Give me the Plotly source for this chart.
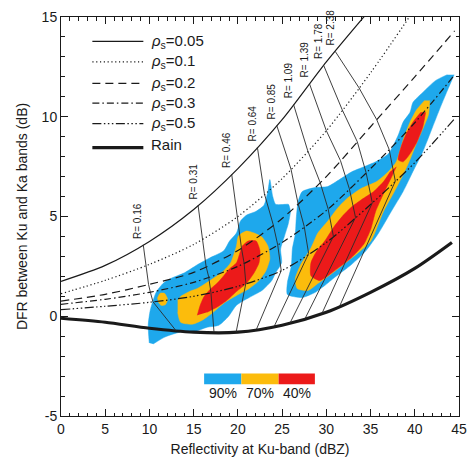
import numpy as np
import plotly.graph_objects as go

# ---------------- model curves: DFR (dB) versus Ku-band reflectivity (dBZ) ----------------
z_rho005 = [0, 5, 10, 15, 20, 25, 30, 35]
dfr_rho005 = [1.75, 2.55, 3.75, 5.35, 7.4, 9.85, 12.75, 15.4]

z_rho01 = [0, 5, 10, 15, 20, 25, 30, 35, 40]
dfr_rho01 = [1.13, 1.8, 2.6, 3.6, 5.0, 6.9, 9.3, 12.2, 15.4]

z_rho02 = [0, 5, 10, 15, 20, 25, 30, 35, 40, 44.5]
dfr_rho02 = [0.76, 1.1, 1.6, 2.2, 3.3, 4.9, 7.0, 9.5, 12.0, 14.3]

z_rho03 = [0, 5, 10, 15, 20, 25, 30, 35, 40, 44.5]
dfr_rho03 = [0.6, 0.85, 1.2, 1.7, 2.5, 3.7, 5.3, 7.4, 9.7, 12.1]

z_rho05 = [0, 5, 10, 15, 20, 25, 30, 35, 40, 44.5]
dfr_rho05 = [0.33, 0.5, 0.7, 1.0, 1.5, 2.3, 3.7, 5.6, 7.7, 9.9]

z_rain = [0, 5, 10, 15, 20, 25, 30, 35, 40, 44.2]
dfr_rain = [-0.1, -0.3, -0.6, -0.8, -0.8, -0.45, 0.2, 1.2, 2.4, 3.7]

# ---------------- iso-R lines: Z where each R value meets each curve ----------------
r_values = ["0.16", "0.31", "0.46", "0.64", "0.85", "1.09", "1.39", "1.78", "2.38"]
iso_z_rho005 = [9.3, 15.5, 19.3, 22.2, 24.4, 26.3, 28.1, 29.7, 31.0]
iso_z_rho01 = [9.6, 16.0, 19.9, 23.0, 26.0, 27.9, 30.0, 31.8, 33.7]
iso_z_rho02 = [9.9, 16.4, 20.4, 24.0, 26.8, 29.3, 31.6, 33.5, 35.7]
iso_z_rho03 = [10.1, 16.7, 20.7, 24.5, 27.5, 30.2, 32.6, 34.5, 37.1]
iso_z_rho05 = [10.4, 16.95, 20.9, 24.9, 28.0, 30.8, 33.3, 35.2, 37.8]
iso_z_rain = [13.0, 17.3, 19.8, 22.1, 24.1, 25.9, 27.6, 29.5, 31.5]

# ---------------- observed joint-frequency contours (90 %, 70 %, 40 %) ----------------
blue_left_z = [9.98, 9.86, 10.09, 10.75, 11.53, 12.41, 13.97, 15.41, 16.85, 18.40, 19.06, 19.84,
               20.28, 20.95, 22.06, 22.94, 23.39, 23.61, 23.94, 24.27, 25.38, 25.71, 25.94, 25.71,
               25.27, 24.83, 24.94, 24.27, 23.83, 22.72, 21.28, 19.84, 18.95, 17.85, 16.52, 14.96,
               13.52, 11.75, 10.42]
blue_left_dfr = [-1.34, -0.45, 0.30, 1.19, 1.64, 1.89, 2.18, 2.58, 2.93, 3.28, 3.77, 4.17,
                 4.76, 5.06, 5.26, 5.56, 6.25, 6.85, 6.00, 5.61, 5.61, 5.61, 5.26, 4.66,
                 4.02, 3.37, 2.68, 2.18, 1.79, 1.29, 0.94, 0.55, 0.0, -0.45, -0.55, -0.79,
                 -0.79, -1.04, -1.39]

orange_left_z = [13.19, 13.52, 14.52, 15.41, 16.85, 18.40, 19.18, 19.84, 20.06, 20.95, 21.84, 22.72,
                 23.39, 23.61, 23.17, 22.39, 21.28, 19.84, 18.51, 17.07, 15.96, 14.85, 13.52, 13.19]
orange_left_dfr = [0.79, 0.99, 1.24, 1.39, 1.79, 2.28, 2.68, 3.52, 4.02, 4.27, 4.17, 3.97,
                   3.52, 2.88, 2.28, 1.79, 1.39, 1.04, 0.69, 0.15, -0.20, -0.40, -0.30, 0.20]

orange_isle_z = [10.9, 11.2, 11.7, 12.05, 11.8, 11.3, 10.95]
orange_isle_dfr = [0.9, 1.15, 1.15, 0.85, 0.58, 0.55, 0.75]

red_left_z = [15.41, 15.74, 16.18, 16.96, 17.62, 18.40, 19.06, 19.84, 20.51, 21.17, 22.06, 22.50,
              22.39, 21.84, 20.95, 19.84, 18.73, 17.62, 16.52]
red_left_dfr = [0.05, 0.55, 0.99, 1.39, 1.64, 2.03, 2.38, 2.68, 3.52, 3.77, 3.77, 3.28,
                2.68, 2.18, 1.64, 1.24, 0.79, 0.45, 0.20]

blue_right_z = [44.45, 43.78, 42.89, 42.01, 40.90, 39.79, 38.68, 37.35, 35.91, 34.47, 32.81, 30.92,
                29.82, 28.71, 27.27, 25.60, 25.60, 26.05, 26.16, 26.49, 26.60, 26.82, 27.27, 28.71,
                30.15, 31.48, 32.92, 34.25, 35.58, 37.02, 38.13, 38.68, 39.46, 39.79, 40.90, 42.34,
                43.67]
blue_right_dfr = [12.11, 11.41, 10.47, 9.48, 8.24, 7.25, 6.25, 5.26, 4.17, 3.28, 2.58, 1.94,
                  1.54, 1.19, 0.94, 1.09, 1.69, 2.53, 3.37, 4.12, 4.91, 5.76, 6.25, 6.45,
                  6.50, 6.85, 7.25, 7.49, 7.74, 8.14, 9.08, 9.73, 10.22, 10.72, 11.22, 11.81,
                  12.11]

orange_right_z = [41.68, 41.56, 40.90, 40.12, 39.35, 38.57, 37.57, 36.47, 35.03, 33.47, 32.03, 30.59,
                  29.04, 27.93, 26.71, 26.49, 27.16, 28.26, 29.04, 30.15, 31.26, 32.37, 33.92, 35.69,
                  37.02, 37.91, 38.35, 38.79, 39.46, 40.24, 41.12]
orange_right_dfr = [10.82, 10.12, 9.38, 8.59, 7.74, 7.00, 6.15, 5.26, 3.77, 3.13, 2.63, 2.13,
                    1.64, 1.29, 1.39, 1.89, 2.63, 3.42, 4.17, 4.76, 5.41, 5.91, 6.40, 6.75,
                    7.25, 7.74, 8.34, 8.98, 9.73, 10.37, 10.82]

red_right_z = [37.91, 37.24, 36.47, 35.58, 35.03, 34.25, 32.81, 30.92, 29.26, 28.26, 28.26, 28.93,
               29.82, 30.92, 31.81, 32.81, 34.03, 35.36, 36.47, 37.24]
red_right_dfr = [7.49, 6.85, 6.15, 5.26, 4.37, 3.62, 2.93, 2.28, 1.79, 2.03, 2.68, 3.28,
                 3.77, 4.52, 5.01, 5.46, 5.86, 6.25, 6.75, 7.25]

red_isle_z = [41.23, 40.90, 40.24, 39.46, 38.68, 38.13, 38.46, 39.02, 39.79, 40.68]
red_isle_dfr = [10.22, 9.48, 8.73, 8.14, 7.74, 7.84, 8.49, 9.13, 9.73, 10.22]

x_ticks = [0, 5, 10, 15, 20, 25, 30, 35, 40, 45]
y_ticks = [-5, 0, 5, 10, 15]
y_ticktext = ["-5", "0", "5", "10", "15"]
level_labels = ["90%", "70%", "40%"]

BLUE = "#1ea8ec"
ORANGE = "#fcbc0c"
RED = "#ec1a1a"
INK = "#1a1a1a"
FONT = "Liberation Sans, Arial, sans-serif"

fig = go.Figure()

# filled frequency regions, outer level first
regions = [
    (blue_left_z, blue_left_dfr, BLUE),
    (blue_right_z, blue_right_dfr, BLUE),
    (orange_left_z, orange_left_dfr, ORANGE),
    (orange_isle_z, orange_isle_dfr, ORANGE),
    (orange_right_z, orange_right_dfr, ORANGE),
    (red_left_z, red_left_dfr, RED),
    (red_right_z, red_right_dfr, RED),
    (red_isle_z, red_isle_dfr, RED),
]
for zs, ds, col in regions:
    fig.add_trace(go.Scatter(x=zs, y=ds, mode="lines", fill="toself", fillcolor=col,
                             line=dict(color=col, width=0.5, shape="spline", smoothing=0.6),
                             hoverinfo="skip", showlegend=False))

# model curves
curves = [
    (z_rho005, dfr_rho005, dict(width=1.2, dash="solid")),
    (z_rho01, dfr_rho01, dict(width=1.2, dash="1.2px,2.6px")),
    (z_rho02, dfr_rho02, dict(width=1.2, dash="8px,5px")),
    (z_rho03, dfr_rho03, dict(width=1.2, dash="7px,3px,1.5px,3px")),
    (z_rho05, dfr_rho05, dict(width=1.2, dash="9px,2.5px,1.5px,2.5px,1.5px,2.5px,1.5px,2.5px")),
    (z_rain, dfr_rain, dict(width=3.2, dash="solid")),
]
for zs, ds, ln in curves:
    fig.add_trace(go.Scatter(x=zs, y=ds, mode="lines",
                             line=dict(color=INK, shape="spline", smoothing=0.8, **ln),
                             hoverinfo="skip", showlegend=False))

# iso-R lines joining the same R on each curve, from rho_s=0.05 down to rain
curve_sets = [(iso_z_rho005, z_rho005, dfr_rho005), (iso_z_rho01, z_rho01, dfr_rho01),
              (iso_z_rho02, z_rho02, dfr_rho02), (iso_z_rho03, z_rho03, dfr_rho03),
              (iso_z_rho05, z_rho05, dfr_rho05), (iso_z_rain, z_rain, dfr_rain)]
for i, r in enumerate(r_values):
    xs = [iz[i] for iz, _, _ in curve_sets]
    ys = [float(np.interp(iz[i], cz, cd)) for iz, cz, cd in curve_sets]
    fig.add_trace(go.Scatter(x=xs, y=ys, mode="lines",
                             line=dict(color="#2a2a2a", width=0.9),
                             hoverinfo="skip", showlegend=False))
    fig.add_annotation(x=xs[0], y=ys[0], text="R= " + r, textangle=-90, showarrow=False,
                       xanchor="center", yanchor="bottom", xshift=-5, yshift=4,
                       font=dict(family=FONT, size=10, color=INK))

# legend drawn inside the frame
leg_text = ["<i>ρ</i><sub>s</sub>=" + v for v in ["0.05", "0.1", "0.2", "0.3", "0.5"]] + ["Rain"]
leg_style = [c[2] for c in curves]
leg_y = [0.9387, 0.8876, 0.8337, 0.7841, 0.7328, 0.6725]
for txt, st, yy in zip(leg_text, leg_style, leg_y):
    fig.add_shape(type="line", xref="paper", yref="paper", x0=0.0788, x1=0.2069, y0=yy, y1=yy,
                  line=dict(color=INK, width=st["width"], dash=st["dash"]))
    fig.add_annotation(xref="paper", yref="paper", x=0.2217, y=yy + (0.008 if txt == "Rain" else 0.0),
                       text=txt, showarrow=False, xanchor="left", yanchor="middle",
                       font=dict(family=FONT, size=15, color=INK))

# colour key for the frequency levels
key_x = [0.3596, 0.4532, 0.5468, 0.6379]
for j, (col, lab) in enumerate(zip([BLUE, ORANGE, RED], level_labels)):
    fig.add_shape(type="rect", xref="paper", yref="paper", x0=key_x[j], x1=key_x[j + 1],
                  y0=0.0794, y1=0.1067, fillcolor=col, line=dict(width=0))
    fig.add_annotation(xref="paper", yref="paper", x=(key_x[j] + key_x[j + 1]) / 2, y=0.057,
                       text=lab, showarrow=False, xanchor="center", yanchor="middle",
                       font=dict(family=FONT, size=14, color=INK))

axis_common = dict(showline=True, linecolor=INK, linewidth=1, mirror="ticks", ticks="inside",
                   ticklen=7, tickwidth=1, tickcolor=INK, showgrid=False, zeroline=False,
                   tickfont=dict(family=FONT, size=14, color=INK),
                   minor=dict(ticks="inside", ticklen=3.5, tickwidth=1, tickcolor=INK, dtick=1,
                              showgrid=False))

fig.update_xaxes(range=[0, 45], tickvals=x_ticks,
                 title=dict(text="Reflectivity at Ku-band (dBZ)", font=dict(family=FONT, size=14, color=INK),
                            standoff=8),
                 **axis_common)
fig.update_yaxes(range=[-5, 15], tickvals=y_ticks, ticktext=y_ticktext,
                 title=dict(text="DFR between Ku and Ka bands (dB)", font=dict(family=FONT, size=14, color=INK),
                            standoff=10),
                 **axis_common)

fig.update_layout(width=476, height=468, margin=dict(l=61, r=9, t=13, b=52),
                  plot_bgcolor="white", paper_bgcolor="white", showlegend=False)

fig.write_html("out.html")
